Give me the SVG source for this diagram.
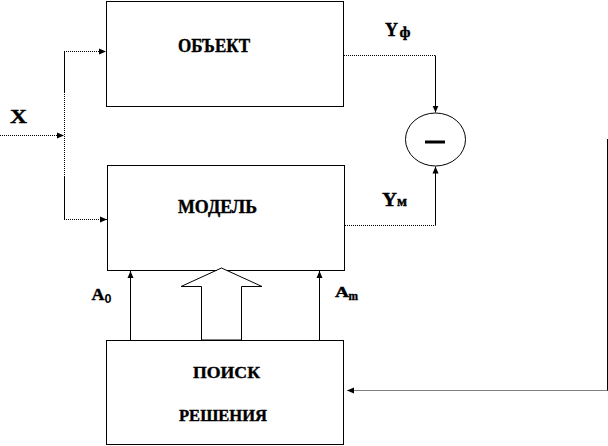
<svg xmlns="http://www.w3.org/2000/svg" width="608" height="446" viewBox="0 0 608 446">
<style>
.box{fill:#fff;stroke:#000;stroke-width:1}
.ln{fill:none;stroke:#000;stroke-width:1}
.dot{fill:none;stroke:#000;stroke-width:1;stroke-dasharray:1 1}
.t{font-family:'Liberation Serif','Times New Roman','DejaVu Serif',serif;font-weight:bold;fill:#000;stroke:#000;stroke-width:0.4}
.s{font-family:'Liberation Sans',Arial,sans-serif;font-weight:bold;fill:#000}
</style>
<defs>
<marker id="ah" markerUnits="userSpaceOnUse" markerWidth="8" markerHeight="8" viewBox="0 0 8 8" refX="7" refY="4" orient="auto">
<path d="M0,1 L7,4 L0,7 Z" fill="#000"/>
</marker>
</defs>
<rect width="608" height="446" fill="#fff"/>

<g id="obj">
<rect class="box" x="106.5" y="1.5" width="237" height="105"/>
<text class="t" x="214" y="52" font-size="18" text-anchor="middle" textLength="72" lengthAdjust="spacingAndGlyphs">ОБЪЕКТ</text>
</g>

<g id="model">
<rect class="box" x="107.5" y="165.5" width="237" height="105"/>
<text class="t" x="217.5" y="213" font-size="18" text-anchor="middle" textLength="79" lengthAdjust="spacingAndGlyphs">МОДЕЛЬ</text>
</g>

<g id="search">
<rect class="box" x="106.5" y="340.5" width="237" height="104"/>
<text class="t" x="226.5" y="378" font-size="17" text-anchor="middle" textLength="67" lengthAdjust="spacingAndGlyphs">ПОИСК</text>
<text class="t" x="223" y="421" font-size="17" text-anchor="middle" textLength="88" lengthAdjust="spacingAndGlyphs">РЕШЕНИЯ</text>
</g>

<g id="comparator">
<ellipse cx="435.5" cy="139.5" rx="30" ry="26.5" fill="#fff" stroke="#000" stroke-width="1"/>
<rect x="425" y="140.5" width="20" height="3" fill="#000"/>
</g>

<g id="connectors">
<line class="dot" x1="0" y1="135.5" x2="64" y2="135.5" marker-end="url(#ah)"/>
<line class="ln" x1="64.5" y1="51" x2="64.5" y2="92"/>
<line class="dot" x1="64.5" y1="92" x2="64.5" y2="176"/>
<line class="ln" x1="64.5" y1="176" x2="64.5" y2="219.5"/>
<line class="dot" x1="64" y1="51.5" x2="106" y2="51.5" marker-end="url(#ah)"/>
<line class="dot" x1="64" y1="219.5" x2="107" y2="219.5" marker-end="url(#ah)"/>
<polyline class="dot" points="344,55.5 435.5,55.5"/>
<line class="ln" x1="435.5" y1="55.5" x2="435.5" y2="112.5" marker-end="url(#ah)"/>
<polyline class="dot" points="345,225.5 435.5,225.5"/>
<line class="ln" x1="435.5" y1="225.5" x2="435.5" y2="166.5" marker-end="url(#ah)"/>
<line class="ln" x1="607.5" y1="139" x2="607.5" y2="390.5"/>
<line class="dot" x1="607.5" y1="390.5" x2="347" y2="390.5" marker-end="url(#ah)"/>
<line class="ln" x1="130.5" y1="340" x2="130.5" y2="271" marker-end="url(#ah)"/>
<line class="ln" x1="319.5" y1="340" x2="319.5" y2="271" marker-end="url(#ah)"/>
<polygon points="201.5,340 201.5,286.5 181,286.5 221.5,268 262,286.5 241.5,286.5 241.5,340" fill="#fff" stroke="#000" stroke-width="1"/>
</g>

<g id="labels">
<text class="t" x="18.5" y="122.5" font-size="19" text-anchor="middle" textLength="17" lengthAdjust="spacingAndGlyphs">X</text>
<text class="t" x="385" y="36" font-size="19" textLength="13" lengthAdjust="spacingAndGlyphs">Y</text>
<text class="t" x="399.5" y="37" font-size="15" textLength="11" lengthAdjust="spacingAndGlyphs">ф</text>
<text class="t" x="382" y="206" font-size="19" textLength="15" lengthAdjust="spacingAndGlyphs">Y</text>
<text class="t" x="397" y="206" font-size="14" textLength="10" lengthAdjust="spacingAndGlyphs">м</text>
<text class="t" x="91.5" y="299.5" font-size="16" textLength="13" lengthAdjust="spacingAndGlyphs">A</text>
<text class="s" x="104.5" y="303" font-size="13" textLength="7" lengthAdjust="spacingAndGlyphs">0</text>
<text class="t" x="335" y="297" font-size="14" textLength="14" lengthAdjust="spacingAndGlyphs">A</text>
<text class="t" x="348.5" y="299.5" font-size="12" textLength="9.5" lengthAdjust="spacingAndGlyphs">m</text>
</g>
</svg>
